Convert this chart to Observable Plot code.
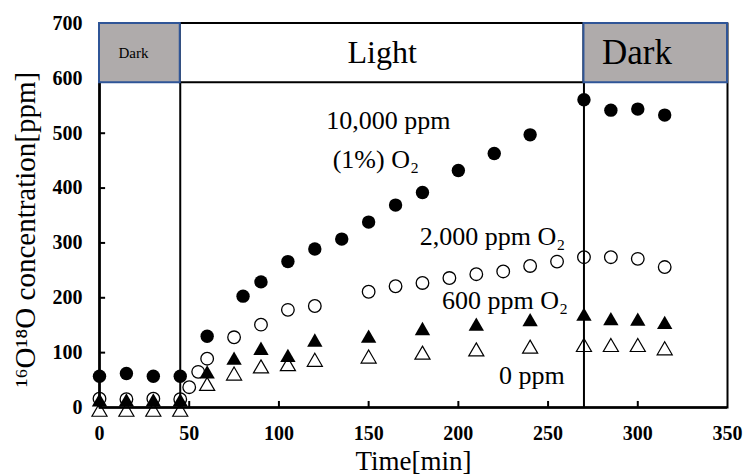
<!DOCTYPE html>
<html>
<head>
<meta charset="utf-8">
<script src="https://cdn.jsdelivr.net/npm/d3@7"></script>
<script src="https://cdn.jsdelivr.net/npm/@observablehq/plot@0.6"></script>
<style>
  body { margin: 0; background: #fff; }
</style>
</head>
<body>
<div id="chart"></div>
<script>
// ---- data ----
const phaseStart = [0, 45, 270];
const phaseEnd = [45, 270, 350];
const phaseLabel = ["Dark", "Light", "Dark"];
const bandBottom = 592;
const bandTop = 700;

const xTicks = [0, 50, 100, 150, 200, 250, 300, 350];
const yTicks = [0, 100, 200, 300, 400, 500, 600, 700];

const t10000 = [0, 15, 30, 45, 60, 80, 90, 105, 120, 135, 150, 165, 180, 200, 220, 240, 270, 285, 300, 315];
const v10000 = [57, 62, 57, 57, 130, 203, 229, 266, 289, 307, 338, 369, 392, 432, 463, 497, 561, 542, 544, 533];

const t2000 = [0, 15, 30, 45, 50, 55, 60, 75, 90, 105, 120, 150, 165, 180, 195, 210, 225, 240, 255, 270, 285, 300, 315];
const v2000 = [16, 15, 16, 15, 37, 65, 89, 128, 151, 178, 185, 211, 221, 227, 236, 243, 248, 258, 266, 274, 274, 271, 256];

const t600 = [0, 15, 30, 45, 60, 75, 90, 105, 120, 150, 180, 210, 240, 270, 285, 300, 315];
const v600 = [10, 10, 10, 10, 61, 86, 104, 91, 119, 126, 140, 148, 156, 166, 158, 157, 151];

const t0 = [0, 15, 30, 45, 60, 75, 90, 105, 120, 150, 180, 210, 240, 270, 285, 300, 315];
const v0 = [-8, -8, -8, -8, 39, 58, 71, 75, 83, 89, 96, 102, 107, 110, 110, 110, 104];

const annText = ["10,000 ppm", "(1%) O\u2082", "2,000 ppm O\u2082", "600 ppm O\u2082", "0 ppm"];
const annX = [161, 154, 219, 226, 241];
const annY = [523, 451, 312, 195, 58];

const xLabel = "Time[min]";
const yLabel = "\u00B9\u2076O\u00B9\u2078O concentration[ppm]";

// ---- build tables ----
const pts = (ts, vs) => ts.map((t, i) => ({t, v: vs[i]}));
const phases = phaseStart.map((s, i) => ({s, e: phaseEnd[i], label: phaseLabel[i]}));
const ann = annText.map((s, i) => ({s, x: annX[i], y: annY[i]}));

const font = "'Liberation Serif', 'DejaVu Serif', serif";
const bandMid = (bandBottom + bandTop) / 2;

const chart = Plot.plot({
  width: 750,
  height: 475,
  marginLeft: 99,
  marginRight: 23,
  marginTop: 23,
  marginBottom: 68,
  style: {fontFamily: font, fontSize: "20px", color: "black", background: "white"},
  x: {domain: [0, 350]},
  y: {domain: [0, 700]},
  marks: [
    Plot.frame({stroke: "black", strokeWidth: 2}),
    Plot.ruleX([0], {stroke: "black", strokeWidth: 2.6}),
    Plot.ruleY([0], {stroke: "black", strokeWidth: 2.6}),
    Plot.ruleY(yTicks.filter(v => v > 0 && v < bandBottom), {y: d => d, x1: 0, x2: 3.4, stroke: "black", strokeWidth: 2}),
    Plot.ruleX(xTicks.filter(v => v > 0 && v < 350), {x: d => d, y1: 0, y2: 11, stroke: "black", strokeWidth: 2}),
    Plot.ruleX(phaseStart.slice(1), {x: d => d, y1: 0, y2: bandBottom, stroke: "black", strokeWidth: 2}),
    Plot.rect(phases.filter(d => d.label === "Light"), {x1: "s", x2: "e", y1: bandBottom, y2: bandTop, fill: "white", stroke: "black", strokeWidth: 2}),
    Plot.rect(phases.filter(d => d.label === "Dark"), {x1: "s", x2: "e", y1: bandBottom, y2: bandTop, fill: "#afabab", stroke: "#2f5597", strokeWidth: 2}),
    Plot.text(phases.slice(0, 1), {x: "s", y: bandMid, text: "label", textAnchor: "start", lineAnchor: "middle", dx: 19, fontSize: 15}),
    Plot.text(phases.slice(1, 2), {x: d => (d.s + d.e) / 2, y: bandMid, text: "label", lineAnchor: "middle", fontSize: 32}),
    Plot.text(phases.slice(2, 3), {x: "s", y: bandMid, text: "label", textAnchor: "start", lineAnchor: "middle", dx: 18, fontSize: 35}),
    Plot.axisX({ticks: xTicks, tickSize: 0, tickPadding: 18, fontSize: 20, fontWeight: "bold", label: null, tickFormat: d => String(d)}),
    Plot.axisY({ticks: yTicks, tickSize: 0, tickPadding: 17, fontSize: 20, fontWeight: "bold", label: null, tickFormat: d => String(d)}),
    Plot.text([xLabel], {frameAnchor: "bottom", textAnchor: "middle", lineAnchor: "middle", dy: 54, fontSize: 27, text: d => d}),
    Plot.text([yLabel], {frameAnchor: "left", textAnchor: "middle", lineAnchor: "middle", rotate: -90, dx: -74, dy: 14, fontSize: 29, text: d => d}),
    Plot.text(ann, {x: "x", y: "y", text: "s", lineAnchor: "middle", fontSize: 26}),
    Plot.dot(pts(t10000, v10000), {x: "t", y: "v", r: 6.7, fill: "black", symbol: "circle"}),
    Plot.dot(pts(t2000, v2000), {x: "t", y: "v", r: 6.3, fill: "none", stroke: "black", strokeWidth: 1.3, symbol: "circle"}),
    Plot.dot(pts(t600, v600), {x: "t", y: "v", r: 5.7, fill: "black", symbol: "triangle"}),
    Plot.dot(pts(t0, v0), {x: "t", y: "v", r: 5.6, fill: "none", stroke: "black", strokeWidth: 1.2, symbol: "triangle"})
  ]
});
document.getElementById("chart").appendChild(chart);
</script>
</body>
</html>
